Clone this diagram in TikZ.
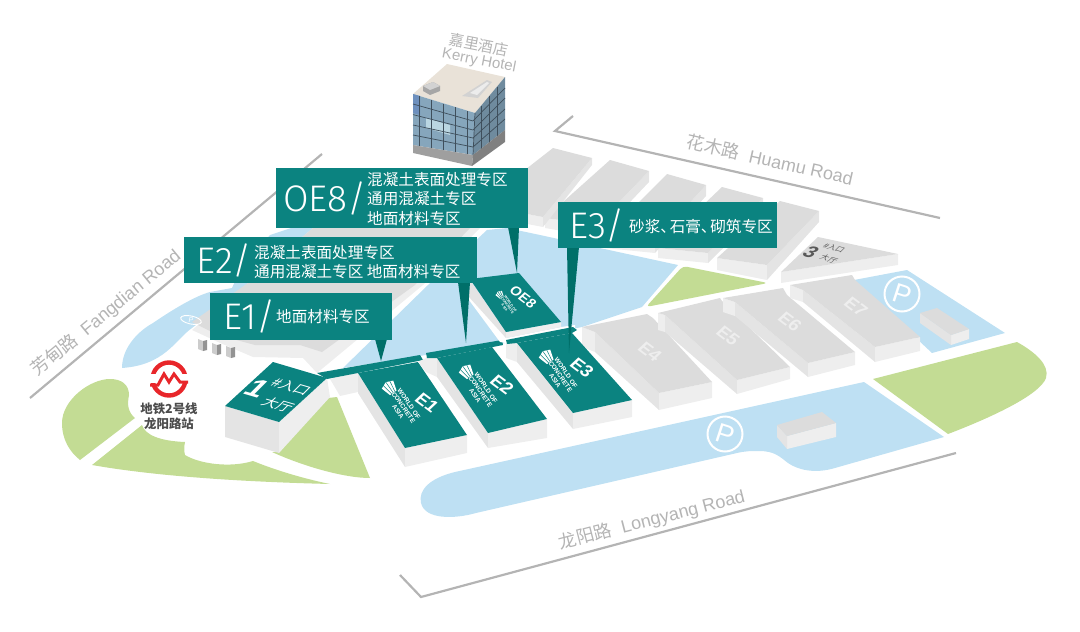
\documentclass[tikz,border=0pt]{standalone}
\usepackage{fontspec}
\setmainfont{Liberation Sans}
\newfontfamily\cjk{Noto Sans CJK SC}
\newfontfamily\tagfont{Fira Sans Light}
\usetikzlibrary{positioning}
\definecolor{tealroof}{HTML}{0B8380}
\definecolor{tealpin}{HTML}{006F69}
\definecolor{water}{HTML}{BEE0F3}
\definecolor{lawn}{HTML}{C3DC94}
\definecolor{roofgray}{HTML}{DCDCDC}
\definecolor{wallmid}{HTML}{E4E4E4}
\definecolor{walllight}{HTML}{EEEEEE}
\definecolor{roadgray}{HTML}{B4B4B4}
\definecolor{metrored}{HTML}{E8262A}
\definecolor{hotelroof}{HTML}{E9E2D8}
\definecolor{glassleft}{HTML}{86A6BC}
\definecolor{glassright}{HTML}{6F8B9E}
\definecolor{glassline}{HTML}{3F4F5C}
\definecolor{glasslight}{HTML}{BAD6E2}
\definecolor{glassblue}{HTML}{6E90BE}

\begin{document}
\begin{tikzpicture}[
    x=1pt, y=-1pt,
    roadline/.style={draw=roadgray, line width=2.2pt},
    roadtext/.style={text=roadgray, inner sep=0pt, font=\fontsize{18}{18}\selectfont},
    tagbox/.style={fill=tealroof, draw=none, inner sep=0pt, anchor=north west},
    tagbig/.style={text=white, inner sep=0pt, anchor=west, font=\tagfont\fontsize{37}{37}\selectfont},
    tagtext/.style={text=white, inner sep=0pt, align=left, font=\cjk\fontsize{15.6}{19.2}\selectfont},
    tagpin/.style={fill=tealpin},
    hallroof/.style={fill=roofgray},
    sidewall/.style={fill=wallmid},
    endwall/.style={fill=walllight},
    tealtop/.style={fill=tealroof},
    halltext/.style={text=walllight, inner sep=0pt, cm={.8,-.6,.72,.68,(0,0)}, font=\bfseries\fontsize{18}{18}\selectfont},
    roofname/.style={text=white, inner sep=0pt, cm={.8,-.6,.72,.68,(0,0)}, font=\bfseries\fontsize{18}{18}\selectfont},
    entrytext/.style={inner sep=0pt, cm={.96,-.28,.7,.7,(0,0)}},
    woca/.pic={
        \fill[white] (-10,-4) -- (-10,4) -- (-20,7) -- (-23,0) -- (-20,-7) -- cycle;
        \draw[tealroof, line width=.5pt] (-10,-2) -- (-22,-4) (-10,0) -- (-23,0) (-10,2) -- (-22,4);
        \node[transform shape, text=white, inner sep=0pt, align=center, font=\bfseries\fontsize{6.4}{6.6}\selectfont] (-woca) at (8,0) {WORLD OF\\CONCRETE\\ASIA};
    }
]
\useasboundingbox (0,0) rectangle (1080,632);

% Water
\fill[water] (122,368) .. controls (122,350) and (135,333) .. (153,323) .. controls (172,310) and (195,296) .. (210,292) -- (232,288) -- (240,270) -- (270,235) -- (300,225) -- (330,225) -- (255,280) -- (235,295) -- (192,328) .. controls (175,340) and (165,365) .. (122,368) -- cycle;
\fill[water] (343,368) -- (428,285) -- (487,230) -- (507,228) -- (540,235) -- (678,265) -- (642,307) -- (582,327) -- (506,343) -- (426,355) -- cycle;
\fill[water] (854,280) -- (907,270) -- (1005,333) -- (932,353) -- cycle;
\fill[water] (864,382) -- (944,437) -- (835,468) .. controls (815,474) and (798,470) .. (788,463) .. controls (780,457) and (775,451) .. (759,451) .. controls (752,451) and (745,451) .. (737,453) -- (476,513) .. controls (455,519) and (425,520) .. (421,503) .. controls (418,490) and (430,478) .. (455,472) -- cycle;

% Lawns
\fill[lawn] (80,460) .. controls (70,452) and (62,440) .. (62,423) .. controls (62,400) and (90,379) .. (110,379) .. controls (122,379) and (129,385) .. (129,395) .. controls (127,405) and (128,412) .. (135,418) -- cycle;
\fill[lawn] (92,465) -- (142,425) .. controls (145,435) and (160,441) .. (185,442) .. controls (184,447) and (184,451) .. (185,455) .. controls (200,464) and (230,468) .. (253,461) .. controls (280,472) and (310,480) .. (330,484) .. controls (250,482) and (160,477) .. (92,465) -- cycle;
\fill[lawn] (272,452) -- (279,452) -- (328,398) -- (337,397) -- (370,478) .. controls (345,478) and (305,467) .. (272,452) -- cycle;
\fill[lawn, rounded corners=4pt] (683,266) -- (768,283) -- (646,307) -- cycle;
\fill[lawn] (873,379) -- (1017,342) .. controls (1035,352) and (1050,365) .. (1046,378) .. controls (1040,395) and (990,418) .. (948,434) -- cycle;

% Roads
\draw[roadline] (573,116) -- (555,131) -- (940,218);
\draw[roadline] (30,398) -- (322,154);
\draw[roadline] (400,575) -- (421,597) -- (956,453);
\node[roadtext, rotate=-12.7] (huamu) at (770,160) {{\cjk 花木路}\ \ Huamu Road};
\node[roadtext, rotate=39.5] (fangdian) at (106,313) {{\cjk 芳甸路}\ \ Fangdian Road};
\node[roadtext, rotate=14.5] (longyang) at (652,520) {{\cjk 龙阳路}\ \ Longyang Road};

% Hotel
\fill[hotelroof] (447,64) -- (505,77) -- (475,113) -- (413,94) -- cycle;
\fill[gray!70] (423,86) -- (433,82) -- (440,86) -- (440,91) -- (430,95) -- (423,91) -- cycle;
\fill[gray!35] (423,86) -- (433,82) -- (440,86) -- (430,90) -- cycle;
\fill[gray!35] (462,96) -- (487,80) -- (492,82) -- (478,98) -- cycle;
\fill[gray!15] (470,93) -- (487,82) -- (489,83) -- (477,95) -- cycle;
\fill[glassleft] (413,94) -- (475,113) -- (473,155) -- (413,145) -- cycle;
\fill[glassright] (475,113) -- (505,77) -- (505,130) -- (473,155) -- cycle;
\fill[glasslight] (426,118) -- (450,125) -- (450,135) -- (426,128) -- cycle;
\fill[glassblue] (413,94) -- (420,96) -- (420,115) -- (413,113) -- cycle;
\draw[glassline, line width=.7pt] (413,104) -- (473,121) (413,114.6) -- (473,130) (413,125) -- (473,138) (413,135) -- (473,147) (475,113) -- (473,155);
\draw[glassline, line width=.7pt] (473,121) -- (505,88) (473,130) -- (505,98) (473,138) -- (505,109) (473,147) -- (505,119);
\draw[glassline, line width=.3pt] (419,96) -- (419,146) (431,99.7) -- (431,148) (443,103.5) -- (443,150) (455,107.3) -- (455,152) (467,111) -- (467,154) (481,106) -- (481,150) (489,96) -- (489,144) (497,87) -- (497,137);
\fill[gray!75] (413,145) -- (473,155) -- (472,166) -- (413,153) -- cycle;
\fill[gray] (473,155) -- (505,130) -- (505,142) -- (472,166) -- cycle;
\node[text=roadgray, inner sep=0pt, rotate=-11, font=\cjk\fontsize{15}{15}\selectfont] (hotelcn) at (479,45) {嘉里酒店};
\node[text=roadgray, inner sep=0pt, rotate=-11, font=\fontsize{15}{15}\selectfont] (hoteleng) at (479,61) {Kerry Hotel};

% Back halls
\fill[endwall] (717,258) -- (767,265) -- (767,280) -- (717,270) -- cycle;
\fill[sidewall] (819,211) -- (819,222) -- (767,280) -- (767,265) -- cycle;
\fill[hallroof] (780,201) -- (819,211) -- (767,265) -- (717,258) -- cycle;
\fill[endwall] (658,248) -- (708,253) -- (708,263) -- (658,258) -- cycle;
\fill[sidewall] (763,198) -- (763,209) -- (708,263) -- (708,253) -- cycle;
\fill[hallroof] (722,187) -- (763,198) -- (708,253) -- (658,248) -- cycle;
\fill[endwall] (605,236) -- (655,241) -- (655,253) -- (605,248) -- cycle;
\fill[sidewall] (706,185) -- (706,196) -- (655,253) -- (655,241) -- cycle;
\fill[hallroof] (667,174) -- (706,185) -- (655,241) -- (605,236) -- cycle;
\fill[endwall] (545,218) -- (597,225) -- (597,237) -- (545,228) -- cycle;
\fill[sidewall] (649,171) -- (649,182) -- (597,237) -- (597,225) -- cycle;
\fill[hallroof] (610,160) -- (649,171) -- (597,225) -- (545,218) -- cycle;
\fill[endwall] (480,205) -- (543,217) -- (543,227) -- (480,215) -- cycle;
\fill[sidewall] (592,158) -- (592,165) -- (543,227) -- (543,217) -- cycle;
\fill[hallroof] (553,148) -- (592,158) -- (543,217) -- (480,205) -- cycle;

% West hall
\fill[endwall] (192,330) -- (248,283) -- (313,228) -- (480,228) -- (423,285) -- (317,373) -- (303,358) -- (253,357) -- (218,342) -- cycle;
\fill[hallroof] (192,322) -- (248,283) -- (313,228) -- (470,228) -- (415,285) -- (322,352) -- (300,345) -- (255,345) -- (218,335) -- cycle;
\fill[gray!40] (198,339) -- (203,341) -- (203,351) -- (198,349) -- cycle;
\fill[gray!85] (203,341) -- (207,340) -- (207,350) -- (203,351) -- cycle;
\fill[gray!40] (212,343) -- (217,345) -- (217,355) -- (212,353) -- cycle;
\fill[gray!85] (217,345) -- (221,344) -- (221,354) -- (217,355) -- cycle;
\fill[gray!40] (226,346) -- (231,348) -- (231,358) -- (226,356) -- cycle;
\fill[gray!85] (231,348) -- (235,347) -- (235,357) -- (231,358) -- cycle;

% East halls
\fill[endwall] (582,327) -- (595,332) -- (595,352) -- (582,347) -- cycle;
\fill[sidewall] (595,332) -- (659,393) -- (659,410) -- (595,352) -- cycle;
\fill[endwall] (659,393) -- (712,382) -- (712,398) -- (659,410) -- cycle;
\fill[hallroof] (582,327) -- (647,314) -- (653,318) -- (712,382) -- (659,393) -- (595,332) -- cycle;
\fill[endwall] (658,313) -- (665,315) -- (665,332) -- (658,330) -- cycle;
\fill[sidewall] (665,315) -- (737,380) -- (737,394) -- (665,332) -- cycle;
\fill[endwall] (737,380) -- (790,367) -- (790,379) -- (737,394) -- cycle;
\fill[hallroof] (658,313) -- (720,298) -- (722,301) -- (790,367) -- (737,380) -- (665,315) -- cycle;
\fill[endwall] (723,298) -- (735,302) -- (735,316) -- (723,312) -- cycle;
\fill[sidewall] (735,302) -- (808,363) -- (808,377) -- (735,316) -- cycle;
\fill[endwall] (808,363) -- (855,352) -- (855,365) -- (808,377) -- cycle;
\fill[hallroof] (723,298) -- (783,288) -- (787,295) -- (855,352) -- (808,363) -- (735,302) -- cycle;
\fill[endwall] (790,285) -- (803,290) -- (803,302) -- (790,298) -- cycle;
\fill[sidewall] (803,290) -- (875,347) -- (875,362) -- (803,302) -- cycle;
\fill[endwall] (875,347) -- (920,337) -- (920,351) -- (875,362) -- cycle;
\fill[hallroof] (790,285) -- (852,275) -- (855,280) -- (920,337) -- (875,347) -- (803,290) -- cycle;
\node[halltext] (e4name) at (650,352) {E4};
\node[halltext] (e5name) at (728,336) {E5};
\node[halltext] (e6name) at (790,322) {E6};
\node[halltext] (e7name) at (856,307) {E7};

% Entrance 3
\fill[endwall] (781,272) -- (898,254) -- (898,265) -- (781,283) -- cycle;
\fill[hallroof] (818,237) -- (898,254) -- (781,272) -- cycle;
\node[entrytext, text=black!65, font=\bfseries\fontsize{20}{20}\selectfont] (e3num) at (811,252) {3};
\node[entrytext, text=black!65, font=\cjk\fontsize{8}{8}\selectfont] (e3door) at (834,248) {\#入口};
\node[entrytext, text=black!65, font=\cjk\fontsize{8}{8}\selectfont] (e3hall) at (829,259) {大厅};

% Parking
\draw[white, line width=2pt] (902,294) circle (17.5);
\node[text=white, inner sep=0pt, rotate=-18, font=\fontsize{27}{27}\selectfont] (parkeast) at (902,294) {P};
\fill[endwall] (951,335) -- (969,329) -- (969,339) -- (951,345) -- cycle;
\fill[sidewall] (920,313) -- (951,335) -- (951,345) -- (920,323) -- cycle;
\fill[hallroof] (920,313) -- (937,308) -- (969,329) -- (951,335) -- cycle;
\draw[white, line width=2pt] (725,434) circle (17.5);
\node[text=white, inner sep=0pt, rotate=-18, font=\fontsize{27}{27}\selectfont] (parksouth) at (725,434) {P};
\fill[endwall] (787,436) -- (836,423) -- (836,437) -- (787,449) -- cycle;
\fill[sidewall] (777,425) -- (787,436) -- (787,449) -- (777,437) -- cycle;
\fill[hallroof] (777,425) -- (822,412) -- (836,423) -- (787,436) -- cycle;
\draw[white, line width=.9pt, rotate around={-12:(191,320)}] (191,320) ellipse (10.5 and 4);
\node[text=white, inner sep=0pt, font=\itshape\fontsize{7}{7}\selectfont] (parkwest) at (191,320) {P};

% Metro
\draw[metrored, line width=4.4pt] (169,379) circle (16.5);
\fill[white] (148,374) rectangle (190,383);
\draw[metrored, line width=3pt, line join=miter] (150,385) -- (158,385) -- (164,374) -- (169,382) -- (174,374) -- (180,382) -- (188,382);
\node[text=black!70, inner sep=0pt, font=\cjk\bfseries\fontsize{12.4}{12.4}\selectfont] (metroline) at (169,409) {地铁2号线};
\node[text=black!70, inner sep=0pt, font=\cjk\bfseries\fontsize{12.4}{12.4}\selectfont] (metrostop) at (169,424) {龙阳路站};

% Entrance 1
\fill[sidewall] (225,406) -- (279,422) -- (279,453) -- (225,437) -- cycle;
\fill[endwall] (279,422) -- (327,378) -- (330,397) -- (279,453) -- cycle;
\fill[tealtop] (273,362) -- (327,378) -- (279,422) -- (225,406) -- cycle;
\node[entrytext, text=white, font=\bfseries\fontsize{31}{31}\selectfont] (e1num) at (257,388) {1};
\node[entrytext, text=white, font=\cjk\fontsize{14.5}{14.5}\selectfont] (e1door) at (291,387) {\#入口};
\node[entrytext, text=white, font=\cjk\fontsize{14.5}{14.5}\selectfont] (e1hall) at (278,405) {大厅};

% Teal halls
\fill[endwall] (330,379) -- (358,372) -- (358,392) -- (340,396) -- cycle;
\fill[tealtop] (317,373) -- (420,355) -- (423,360) -- (358,373) -- (327,379) -- cycle;
\fill[sidewall] (358,373) -- (405,448) -- (405,467) -- (358,393) -- cycle;
\fill[endwall] (405,448) -- (467,435) -- (467,453) -- (405,467) -- cycle;
\fill[tealtop] (358,373) -- (418,362) -- (467,435) -- (405,448) -- cycle;
\fill[endwall] (418,362) -- (426,358) -- (426,372) -- cycle;
\fill[endwall] (426,357) -- (437,358) -- (437,377) -- (426,372) -- cycle;
\fill[tealtop] (426,353) -- (502,340) -- (503,345) -- (437,358) -- (427,358) -- cycle;
\fill[sidewall] (437,358) -- (488,433) -- (488,448) -- (437,377) -- cycle;
\fill[endwall] (488,433) -- (547,419) -- (547,438) -- (488,448) -- cycle;
\fill[tealtop] (437,358) -- (492,347) -- (547,419) -- (488,433) -- cycle;
\fill[white] (468,290) -- (506,338) -- (561,327) -- (575,325) -- (575,328) -- (506,343) -- (500,342) -- (466,296) -- cycle;
\fill[sidewall] (470,280) -- (506,332) -- (506,338) -- (469,297) -- cycle;
\fill[endwall] (506,332) -- (561,322) -- (561,327) -- (506,338) -- cycle;
\fill[tealtop] (470,279) -- (519,273) -- (561,322) -- (506,332) -- cycle;
\fill[endwall] (506,343) -- (517,343) -- (517,362) -- (506,358) -- cycle;
\fill[tealtop] (506,340) -- (573,327) -- (577,330) -- (572,333) -- (517,343) -- (507,344) -- cycle;
\fill[sidewall] (517,343) -- (573,413) -- (573,429) -- (517,362) -- cycle;
\fill[endwall] (573,413) -- (632,400) -- (632,417) -- (573,429) -- cycle;
\fill[tealtop] (517,343) -- (572,333) -- (632,400) -- (573,413) -- cycle;
\node[roofname] (e1name) at (427,403) {E1};
\node[roofname] (e2name) at (502,385) {E2};
\node[roofname] (e3name) at (582,368) {E3};
\node[roofname, font=\bfseries\fontsize{14}{14}\selectfont] (oe8name) at (523,297) {OE8};
\pic[rotate=-55] (e1logo) at (399,401) {woca};
\pic[rotate=-55] (e2logo) at (476,385) {woca};
\pic[rotate=-55] (e3logo) at (556,370) {woca};
\pic[rotate=-55, scale=.55] (oe8logo) at (505,302) {woca};

% Pins
\fill[tagpin] (508,227) -- (519,227) -- (517,273) -- cycle;
\fill[tagpin] (458,282) -- (470,282) -- (466,343) -- cycle;
\fill[tagpin] (375,339) -- (387,339) -- (381,361) -- cycle;
\fill[tagpin] (567,247) -- (579,247) -- (569,353) -- cycle;

% Tags
\node[tagbox, minimum width=252pt, minimum height=60pt] (oe8tag) at (276,168) {};
\node[tagbig] (oe8big) at (283,198) {OE8/};
\node[tagtext, anchor=west] (oe8text) at (367,199) {混凝土表面处理专区\\通用混凝土专区\\地面材料专区};
\node[tagbox, minimum width=293pt, minimum height=46pt] (e2tag) at (184,237) {};
\node[tagbig] (e2big) at (196,260) {E2/};
\node[tagtext, anchor=west] (e2text) at (254,262) {混凝土表面处理专区\\通用混凝土专区\ 地面材料专区};
\node[tagbox, minimum width=182pt, minimum height=47pt] (e1tag) at (210,293) {};
\node[tagbig] (e1big) at (223,316) {E1/};
\node[tagtext, anchor=west] (e1text) at (276,317) {地面材料专区};
\node[tagbox, minimum width=219pt, minimum height=46pt] (e3tag) at (558,202) {};
\node[tagbig] (e3big) at (569,225) {E3/};
\node[tagtext, anchor=west] (e3text) at (629,227) {砂浆、\kern-.4em 石膏、\kern-.4em 砌筑专区};

\end{tikzpicture}
\end{document}
